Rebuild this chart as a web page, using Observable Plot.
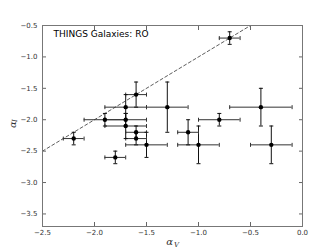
<!DOCTYPE html>
<html><head><meta charset="utf-8">
<script src="https://cdn.jsdelivr.net/npm/d3@7"></script>
<script src="https://cdn.jsdelivr.net/npm/@observablehq/plot@0.6"></script>
<style>body{margin:0;background:#fff}</style>
</head><body><div id="chart"></div>
<script>
const title = "THINGS Galaxies: RO";
const alphaV = [-0.7, -2.2, -1.8, -1.9, -1.7, -1.7, -1.7, -1.6, -1.6, -1.6, -1.5, -1.3, -1.1, -1.0, -0.8, -0.4, -0.3];
const alphaI = [-0.7, -2.3, -2.6, -2.0, -2.0, -1.8, -2.1, -1.6, -2.2, -2.3, -2.4, -1.8, -2.2, -2.4, -2.0, -1.8, -2.4];
const errV   = [0.1, 0.1, 0.1, 0.2, 0.2, 0.2, 0.2, 0.1, 0.1, 0.1, 0.2, 0.2, 0.1, 0.2, 0.2, 0.3, 0.2];
const errI   = [0.1, 0.1, 0.1, 0.1, 0.1, 0.2, 0.2, 0.2, 0.1, 0.1, 0.2, 0.4, 0.2, 0.3, 0.1, 0.3, 0.3];
const xTicks = [-2.5, -2.0, -1.5, -1.0, -0.5, 0.0];
const yTicks = [-0.5, -1.0, -1.5, -2.0, -2.5, -3.0, -3.5];
const oneToOne = [-2.5, -0.5];

const data = alphaV.map((x, i) => ({x, y: alphaI[i], xe: errV[i], ye: errI[i]}));
const line = oneToOne.map(v => ({x: v, y: v}));

const vcap = {draw(ctx, size) { const r = Math.sqrt(size / Math.PI); ctx.moveTo(0, -r); ctx.lineTo(0, r); }};
const hcap = {draw(ctx, size) { const r = Math.sqrt(size / Math.PI); ctx.moveTo(-r, 0); ctx.lineTo(r, 0); }};
const fmt = d3.format(".1f");
const font = "DejaVu Sans, sans-serif";

const chart = Plot.plot({
  width: 310, height: 252,
  marginLeft: 42, marginRight: 8, marginTop: 25, marginBottom: 26,
  style: {fontFamily: font, fontSize: "7px", background: "#fff", color: "#000"},
  x: {domain: [-2.5, 0], label: null},
  y: {domain: [-3.7, -0.5], label: null},
  marks: [
    Plot.line(line, {x: "x", y: "y", stroke: "#333", strokeWidth: 0.8, strokeDasharray: "3,2.5"}),
    Plot.ruleY(data, {y: "y", x1: d => d.x - d.xe, x2: d => d.x + d.xe, stroke: "#333", strokeWidth: 1}),
    Plot.ruleX(data, {x: "x", y1: d => d.y - d.ye, y2: d => d.y + d.ye, stroke: "#111", strokeWidth: 1}),
    Plot.dot(data, {x: d => d.x - d.xe, y: "y", symbol: vcap, r: 2, stroke: "#333", fill: "none", strokeWidth: 1}),
    Plot.dot(data, {x: d => d.x + d.xe, y: "y", symbol: vcap, r: 2, stroke: "#333", fill: "none", strokeWidth: 1}),
    Plot.dot(data, {x: "x", y: d => d.y - d.ye, symbol: hcap, r: 2, stroke: "#111", fill: "none", strokeWidth: 1}),
    Plot.dot(data, {x: "x", y: d => d.y + d.ye, symbol: hcap, r: 2, stroke: "#111", fill: "none", strokeWidth: 1}),
    Plot.dot(data, {x: "x", y: "y", r: 2.2, fill: "#000", stroke: "none"}),
    Plot.axisX({anchor: "bottom", ticks: xTicks, tickSize: -4, tickPadding: 8, tickFormat: fmt, stroke: "#666", fill: "#333"}),
    Plot.axisX({anchor: "top", ticks: xTicks, tickSize: -4, tickFormat: () => "", stroke: "#666"}),
    Plot.axisY({anchor: "left", ticks: yTicks, tickSize: -4, tickPadding: 9, tickFormat: fmt, stroke: "#666", fill: "#333"}),
    Plot.axisY({anchor: "right", ticks: yTicks, tickSize: -4, tickFormat: () => "", stroke: "#666"}),
    Plot.frame({stroke: "#777", strokeWidth: 1}),
    Plot.text([title], {text: d => d, frameAnchor: "top-left", dx: 11, dy: 5, fontSize: 9, fill: "#000", fontFamily: font}),
    Plot.text(["α"], {text: d => d, frameAnchor: "bottom", dy: 18, dx: -3, fontSize: 10, fontStyle: "italic", fontFamily: "DejaVu Serif, serif", fill: "#333"}),
    Plot.text(["V"], {text: d => d, frameAnchor: "bottom", dy: 20, dx: 4, fontSize: 7, fontStyle: "italic", fontFamily: "DejaVu Serif, serif", fill: "#333"}),
    Plot.text(["α"], {text: d => d, frameAnchor: "left", dx: -30, dy: 2, rotate: -90, fontSize: 10, fontStyle: "italic", fontFamily: "DejaVu Serif, serif", fill: "#333"}),
    Plot.text(["I"], {text: d => d, frameAnchor: "left", dx: -28, dy: -4, rotate: -90, fontSize: 7, fontStyle: "italic", fontFamily: "DejaVu Serif, serif", fill: "#333"})
  ]
});
document.getElementById("chart").appendChild(chart);
</script>
</body></html>
